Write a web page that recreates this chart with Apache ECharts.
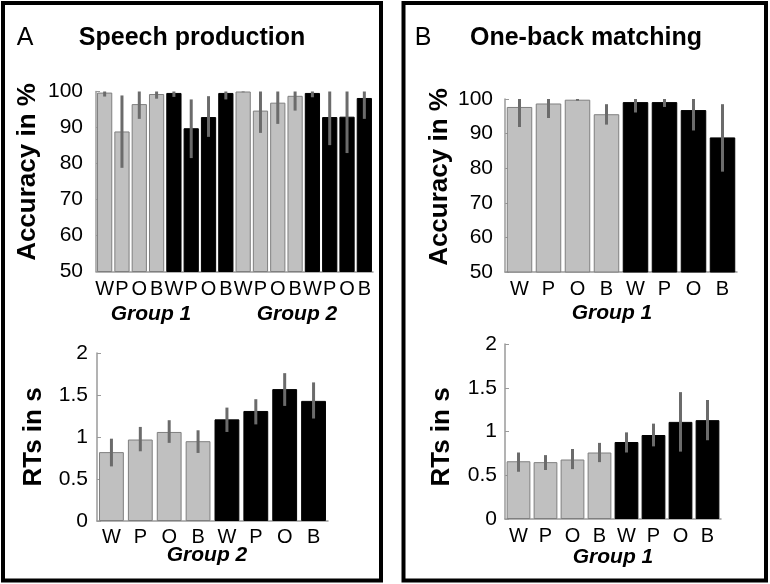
<!DOCTYPE html>
<html>
<head>
<meta charset="utf-8">
<script src="https://cdn.jsdelivr.net/npm/echarts@6/dist/echarts.min.js"></script>
<style>
html,body{margin:0;padding:0;background:#fff;}
#chart{width:770px;height:584px;}
</style>
</head>
<body>
<div id="chart"></div>
<script>
// ---- Data ----
const panelLetters = ['A', 'B'];
const panelTitles = ['Speech production', 'One-back matching'];
const accName = 'Accuracy in %';
const rtName = 'RTs in s';

const spAccCats = ['W','P','O','B','W','P','O','B','W','P','O','B','W','P','O','B'];
const spAccMean = [99.7, 88.9, 96.5, 99.3, 99.6, 89.8, 92.9, 99.6, 100.0, 94.7, 96.9, 98.8, 99.6, 92.9, 93.0, 98.2];
const spAccLow  = [98.6, 78.8, 92.4, 98.0, 98.5, 81.5, 87.4, 97.8, 99.8, 88.5, 91.0, 94.7, 98.4, 85.1, 82.9, 92.4];
const spAccHigh = [100, 98.9, 100, 100, 100, 97.8, 98.7, 100, 100, 100, 100, 100, 100, 100, 100, 100];
const spAccGroups = ['Group 1', 'Group 2'];

const spRtCats = ['W','P','O','B','W','P','O','B'];
const spRtMean = [0.82, 0.97, 1.06, 0.95, 1.21, 1.31, 1.57, 1.43];
const spRtLow  = [0.65, 0.83, 0.93, 0.81, 1.06, 1.15, 1.37, 1.22];
const spRtHigh = [0.98, 1.12, 1.20, 1.08, 1.35, 1.45, 1.76, 1.65];
const spRtGroup = 'Group 2';

const obAccCats = ['W','P','O','B','W','P','O','B'];
const obAccMean = [97.7, 98.7, 99.8, 95.6, 99.1, 99.1, 96.8, 88.9];
const obAccLow  = [91.9, 94.5, 99.5, 92.6, 96.1, 97.7, 90.9, 79.0];
const obAccHigh = [100, 100, 100, 98.5, 100, 100, 100, 98.5];
const obAccGroup = 'Group 1';

const obRtCats = ['W','P','O','B','W','P','O','B'];
const obRtMean = [0.66, 0.65, 0.68, 0.76, 0.88, 0.96, 1.11, 1.13];
const obRtLow  = [0.54, 0.56, 0.57, 0.65, 0.76, 0.83, 0.77, 0.90];
const obRtHigh = [0.76, 0.73, 0.80, 0.87, 0.99, 1.09, 1.45, 1.36];
const obRtGroup = 'Group 1';

// ---- Styles ----
const FONT = "'Liberation Sans', Arial, Helvetica, sans-serif";
const GRAY = '#c0c0c0', GRAY_EDGE = '#7f7f7f', BLACK = '#000000', ERR = '#6b6b6b', AXIS = '#9a9a9a';

function barData(vals) {
  return vals.map((v, i) => {
    const light = Math.floor(i / 4) % 2 === 0;
    return { value: v, itemStyle: { color: light ? GRAY : BLACK, borderColor: light ? GRAY_EDGE : BLACK, borderWidth: 1 } };
  });
}
function errData(lo, hi) { return lo.map((l, i) => [i, l, hi[i]]); }
function renderErr(params, api) {
  const x = api.value(0);
  const a = api.coord([x, api.value(1)]);
  const b = api.coord([x, api.value(2)]);
  return { type: 'line', shape: { x1: a[0], y1: a[1], x2: b[0], y2: b[1] }, style: { stroke: ERR, lineWidth: 3 } };
}

const grids = [
  { left: 96, top: 91.5, width: 277, height: 180 },
  { left: 97, top: 353, width: 231, height: 168 },
  { left: 505, top: 99, width: 232, height: 173 },
  { left: 505, top: 344, width: 216, height: 175 }
];
const cats = [spAccCats, spRtCats, obAccCats, obRtCats];
const xMargins = [8, 6, 7, 7];
const yMargins = [13, 9, 12, 8];
const yRanges = [[50, 100, 10], [0, 2, 0.5], [50, 100, 10], [0, 2, 0.5]];

const xAxis = cats.map((c, i) => ({
  type: 'category', gridIndex: i, data: c,
  axisLine: { lineStyle: { color: AXIS, width: 1.5 } },
  axisTick: { show: false },
  axisLabel: { interval: 0, color: '#000', fontSize: 20, fontFamily: FONT, margin: xMargins[i] }
}));
const yAxis = yRanges.map((r, i) => ({
  type: 'value', gridIndex: i, min: r[0], max: r[1], interval: r[2],
  splitLine: { show: false },
  axisLine: { show: true, lineStyle: { color: AXIS, width: 1.5 } },
  axisTick: { show: true, inside: true, length: 4, lineStyle: { color: AXIS } },
  axisLabel: { color: '#000', fontSize: 21, fontFamily: FONT, margin: yMargins[i] }
}));

const means = [spAccMean, spRtMean, obAccMean, obRtMean];
const lows = [spAccLow, spRtLow, obAccLow, obRtLow];
const highs = [spAccHigh, spRtHigh, obAccHigh, obRtHigh];
const gaps = ['12%', '14%', '12%', '12%'];
const series = [];
means.forEach((m, i) => {
  series.push({ type: 'bar', xAxisIndex: i, yAxisIndex: i, data: barData(m), barCategoryGap: gaps[i], silent: true, z: 2 });
  series.push({ type: 'custom', xAxisIndex: i, yAxisIndex: i, data: errData(lows[i], highs[i]), renderItem: renderErr, silent: true, z: 5 });
});

function txt(x, y, s, opts) {
  return Object.assign({ type: 'text', x: x, y: y, silent: true,
    style: Object.assign({ text: s, fill: '#000', fontFamily: FONT, textAlign: 'center', textVerticalAlign: 'middle' }, opts.style || {}) },
    opts.rot ? { rotation: Math.PI / 2 } : {});
}

const graphic = [
  { type: 'rect', shape: { x: 3, y: 3, width: 378, height: 577.5 }, style: { fill: 'none', stroke: '#000', lineWidth: 4 }, silent: true },
  { type: 'rect', shape: { x: 403.5, y: 3, width: 362.5, height: 577.5 }, style: { fill: 'none', stroke: '#000', lineWidth: 4 }, silent: true },
  txt(25, 38, panelLetters[0], { style: { fontSize: 25 } }),
  txt(192, 38, panelTitles[0], { style: { fontSize: 25, fontWeight: 'bold' } }),
  txt(423, 38, panelLetters[1], { style: { fontSize: 25 } }),
  txt(586, 38, panelTitles[1], { style: { fontSize: 25, fontWeight: 'bold' } }),
  txt(28, 172, accName, { rot: true, style: { fontSize: 26, fontWeight: 'bold' } }),
  txt(34, 437, rtName, { rot: true, style: { fontSize: 26, fontWeight: 'bold' } }),
  txt(440, 177, accName, { rot: true, style: { fontSize: 26, fontWeight: 'bold' } }),
  txt(442, 437, rtName, { rot: true, style: { fontSize: 26, fontWeight: 'bold' } }),
  txt(151, 314, spAccGroups[0], { style: { fontSize: 21, fontWeight: 'bold', fontStyle: 'italic' } }),
  txt(297, 314, spAccGroups[1], { style: { fontSize: 21, fontWeight: 'bold', fontStyle: 'italic' } }),
  txt(207, 555, spRtGroup, { style: { fontSize: 21, fontWeight: 'bold', fontStyle: 'italic' } }),
  txt(612, 313, obAccGroup, { style: { fontSize: 21, fontWeight: 'bold', fontStyle: 'italic' } }),
  txt(613, 557, obRtGroup, { style: { fontSize: 21, fontWeight: 'bold', fontStyle: 'italic' } })
];

const chart = echarts.init(document.getElementById('chart'), null, { renderer: 'canvas' });
chart.setOption({
  animation: false,
  backgroundColor: '#fff',
  grid: grids,
  xAxis: xAxis,
  yAxis: yAxis,
  series: series,
  graphic: graphic
});
</script>
</body>
</html>
